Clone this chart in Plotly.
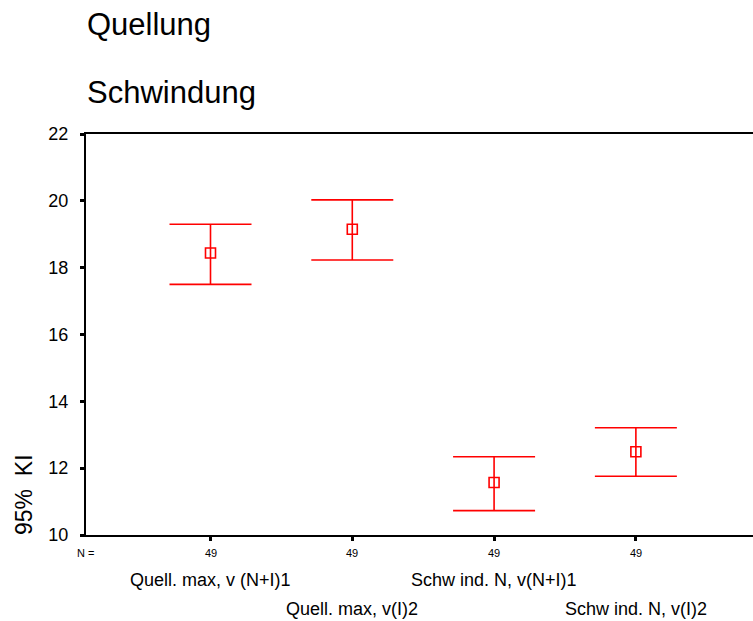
import plotly.graph_objects as go

categories = ["Quell. max, v (N+I)1", "Quell. max, v(I)2", "Schw ind. N, v(N+I)1", "Schw ind. N, v(I)2"]
x_pos = [1, 2, 3, 4]
means = [18.44, 19.15, 11.57, 12.49]
ci_upper = [19.30, 20.03, 12.34, 13.21]
ci_lower = [17.50, 18.23, 10.73, 11.76]
n_values = [49, 49, 49, 49]
y_ticks = [10, 12, 14, 16, 18, 20, 22]

W, H = 753, 621
L, R, T, B = 86, 0, 134, 86
plot_h = H - T - B

def py(ypx):
    return (H - B - ypx) / plot_h

def px_x(xpx):
    return (xpx - L) / (W - L - R)

font_family = "Liberation Sans, Arial, Helvetica, sans-serif"

fig = go.Figure()
fig.add_trace(go.Scatter(
    x=x_pos, y=means, mode="markers",
    marker=dict(symbol="square-open", size=10, color="#ff0000", line=dict(width=1.6, color="#ff0000")),
    error_y=dict(type="data", symmetric=False,
                 array=[u - m for u, m in zip(ci_upper, means)],
                 arrayminus=[m - l for m, l in zip(means, ci_lower)],
                 color="#ff0000", thickness=1.6, width=41),
    showlegend=False, hoverinfo="skip",
))

annotations = []
annotations.append(dict(text="Quellung", xref="paper", yref="paper", x=px_x(85), y=py(25),
                        xanchor="left", yanchor="middle", showarrow=False,
                        font=dict(size=31, color="black", family=font_family)))
annotations.append(dict(text="Schwindung", xref="paper", yref="paper", x=px_x(85), y=py(92),
                        xanchor="left", yanchor="middle", showarrow=False,
                        font=dict(size=31, color="black", family=font_family)))
annotations.append(dict(text="95%&nbsp;&nbsp;KI", xref="paper", yref="paper", x=px_x(24), y=py(495),
                        xanchor="center", yanchor="middle", textangle=-90, showarrow=False,
                        font=dict(size=23, color="black", family=font_family)))
annotations.append(dict(text="N =", xref="paper", yref="paper", x=px_x(85), y=py(553),
                        xanchor="center", yanchor="middle", showarrow=False,
                        font=dict(size=11, color="black", family=font_family)))
for xv, n in zip(x_pos, n_values):
    annotations.append(dict(text=str(n), xref="x", yref="paper", x=xv, y=py(553),
                            xanchor="center", yanchor="middle", showarrow=False,
                            font=dict(size=11, color="black", family=font_family)))
row_y = [580, 609]
for i, (xv, cat) in enumerate(zip(x_pos, categories)):
    annotations.append(dict(text=cat, xref="x", yref="paper", x=xv, y=py(row_y[i % 2]),
                            xanchor="center", yanchor="middle", showarrow=False,
                            font=dict(size=18, color="black", family=font_family)))

fig.update_layout(
    width=W, height=H,
    margin=dict(l=L, r=R, t=T, b=B, pad=0),
    paper_bgcolor="white", plot_bgcolor="white",
    font=dict(family=font_family, color="black"),
    annotations=annotations,
    xaxis=dict(range=[0.122, 4.826], tickvals=x_pos, ticktext=["", "", "", ""],
               showgrid=False, zeroline=False, showline=True, linecolor="black", linewidth=2,
               mirror=True, ticks="outside", ticklen=4, tickwidth=3, tickcolor="black"),
    yaxis=dict(range=[10, 22], tickvals=y_ticks, ticktext=[str(v) for v in y_ticks],
               showgrid=False, zeroline=False, showline=True, linecolor="black", linewidth=2,
               ticks="outside", ticklen=4, tickwidth=3, tickcolor="black",
               ticklabelstandoff=8,
               tickfont=dict(size=18, color="black", family=font_family)),
)

fig.write_html("out.html")
